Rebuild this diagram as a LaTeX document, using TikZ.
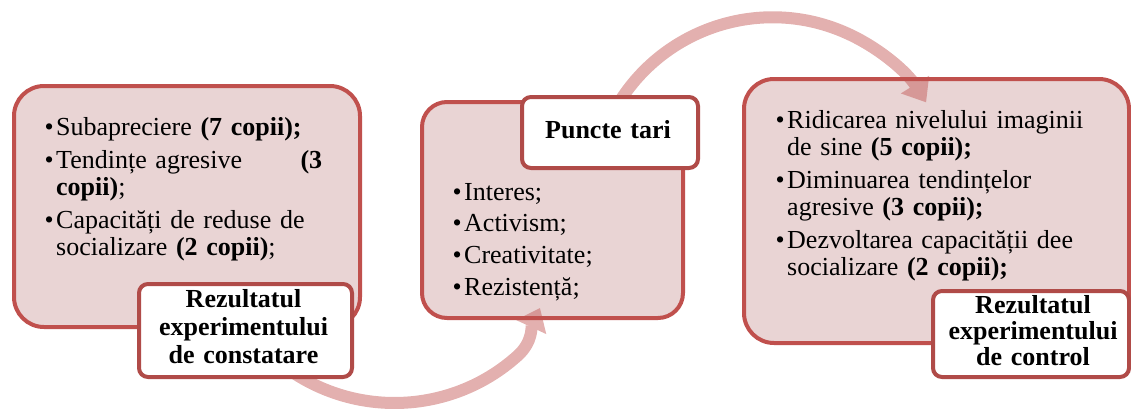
\documentclass[tikz,border=0pt]{standalone}
\usepackage{fontspec}
\setmainfont{Liberation Serif}
\usetikzlibrary{arrows.meta}
\definecolor{bord}{HTML}{C0504D}
\definecolor{labbord}{HTML}{B04B48}
\definecolor{boxfill}{HTML}{E9D4D4}
\definecolor{flowc}{HTML}{C0504D}
\newcommand\mybul{\leavevmode\llap{•\hspace{2.5pt}}}
\begin{document}
\begin{tikzpicture}[x=1pt,y=1pt,
  bigbox/.style={draw=bord, line width=4pt, fill=boxfill, rounded corners=#1, inner sep=0pt, anchor=north west},
  labelbox/.style={draw=labbord, line width=4pt, fill=white, rounded corners=9pt, inner sep=0pt, anchor=north west},
  bodytext/.style={anchor=base west, inner sep=0pt, align=left, font=\fontsize{26}{27}\selectfont},
  labeltext/.style={anchor=base, inner sep=0pt, align=center, font=\bfseries\fontsize{26}{#1}\selectfont},
  flow/.style={draw=flowc, line width=12pt, -{Triangle[width=32pt,length=21pt]}}]
\useasboundingbox (0,0) rectangle (1131,-412);
\clip (0,0) rectangle (1131,-412);
% big boxes
\node[bigbox=30pt, minimum width=346pt, minimum height=241pt] (b1) at (12,-84) {};
\node[bigbox=25pt, minimum width=261pt, minimum height=216pt] (b2) at (420,-100) {};
\node[bigbox=30pt, minimum width=385pt, minimum height=264pt] (b3) at (742,-77) {};
% arrows
\coordinate (c1) at (394.5,-219);
\coordinate (c2) at (772.6,-198.3);
\coordinate (tip1) at (540,-308);
\begin{scope}[transparency group, opacity=0.45]
\draw[flow] ([shift={(225:184)}]c1) arc[start angle=225, end angle=312, radius=184] to[out=42, in=-115] (tip1);
\draw[flow] ([shift={(155:181)}]c2) arc[start angle=155, end angle=32, radius=181];
\end{scope}
% label boxes
\node[labelbox, minimum width=213pt, minimum height=93pt] (l1) at (137,-282) {};
\node[labelbox, minimum width=176pt, minimum height=71pt] (l2) at (520,-95) {};
\node[labelbox, minimum width=196pt, minimum height=86pt] (l3) at (931,-289) {};
% body texts
\node[bodytext, text width=266pt] (t1) at (56,-135) {%
\mybul Subapreciere \textbf{(7 copii);}\\[6pt]
\mybul Tendințe agresive\hskip0pt plus1filll\textbf{(3}\\
\textbf{copii)};\\[6pt]
\mybul Capacități de reduse de\\
socializare \textbf{(2 copii)};};
\node[bodytext, text width=200pt] (t2) at (464,-200) {%
\mybul Interes;\\[4.7pt]
\mybul Activism;\\[4.7pt]
\mybul Creativitate;\\[4.7pt]
\mybul Rezistență;};
\node[bodytext, text width=330pt] (t3) at (787,-128) {%
\mybul Ridicarea nivelului imaginii\\
de sine \textbf{(5 copii);}\\[6pt]
\mybul Diminuarea tendințelor\\
agresive \textbf{(3 copii);}\\[6pt]
\mybul Dezvoltarea capacității dee\\
socializare \textbf{(2 copii);}};
% label texts
\node[labeltext=28, text width=213pt] (lt1) at (243.5,-307) {Rezultatul\\experimentului\\de constatare};
\node[labeltext=28, text width=176pt] (lt2) at (608,-138) {Puncte tari};
\node[labeltext=26, text width=196pt] (lt3) at (1033,-313) {Rezultatul\\experimentului\\de control};
\end{tikzpicture}
\end{document}
